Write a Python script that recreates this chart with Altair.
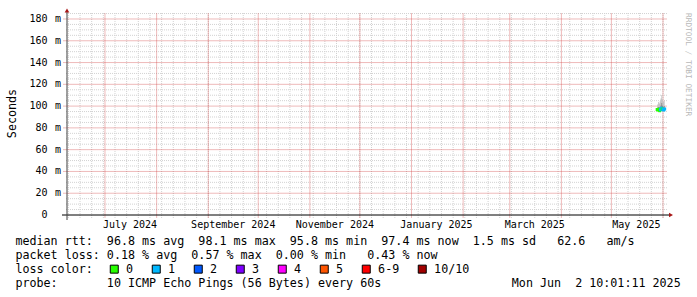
import altair as alt
import pandas as pd

# ------------------------------------------------------------------ data
sample_time = ["2025-05-28T12:00:00Z", "2025-05-29T00:00:00Z", "2025-05-29T12:00:00Z",
               "2025-05-30T00:00:00Z", "2025-05-30T12:00:00Z", "2025-05-31T00:00:00Z",
               "2025-05-31T12:00:00Z", "2025-06-01T00:00:00Z", "2025-06-01T12:00:00Z",
               "2025-06-02T00:00:00Z"]
median_ms = [96.9, 96.4, 97.1, 95.8, 96.7, 98.1, 97.2, 96.8, 96.5, 97.4]
smoke_lo_ms = [95.2, 94.8, 95.3, 94.4, 94.9, 95.9, 95.4, 95.0, 94.7, 95.5]
smoke_hi_ms = [101.5, 103.8, 102.4, 104.5, 107.0, 110.2, 106.1, 103.9, 105.3, 102.8]
core_lo_ms = [96.2, 95.8, 96.4, 95.2, 95.9, 97.1, 96.5, 96.0, 95.7, 96.6]
core_hi_ms = [98.6, 99.2, 99.0, 98.8, 100.6, 102.9, 100.4, 99.3, 100.1, 99.4]
loss_bucket = ["0", "0", "0", "0", "1", "1", "0", "1", "1", "1"]

loss_labels = ["0", "1", "2", "3", "4", "5", "6-9", "10/10"]
loss_colors = ["#26ff00", "#00b8ff", "#0059ff", "#7e00ff", "#ff00ff", "#ff5500", "#ff0000", "#a10000"]

y_major = [0, 20, 40, 60, 80, 100, 120, 140, 160, 180]
y_label_num = ["0", "20", "40", "60", "80", "100", "120", "140", "160", "180"]
y_label_unit = ["", "m", "m", "m", "m", "m", "m", "m", "m", "m"]
y_minor = [5, 10, 15, 25, 30, 35, 45, 50, 55, 65, 70, 75, 85, 90, 95, 105, 110, 115,
           125, 130, 135, 145, 150, 155, 165, 170, 175, 185]
month_starts = ["2024-07-01", "2024-08-01", "2024-09-01", "2024-10-01", "2024-11-01",
                "2024-12-01", "2025-01-01", "2025-02-01", "2025-03-01", "2025-04-01",
                "2025-05-01", "2025-06-01"]
week_starts = [d.strftime("%Y-%m-%d") for d in pd.date_range("2024-06-09", "2025-06-01", freq="7D")]
month_label_at = ["2024-07-16", "2024-09-16", "2024-11-16", "2025-01-16", "2025-03-16", "2025-05-16"]
month_label_text = ["July 2024", "September 2024", "November 2024", "January 2025",
                    "March 2025", "May 2025"]

legend_line1 = "median rtt:  96.8 ms avg  98.1 ms max  95.8 ms min  97.4 ms now  1.5 ms sd   62.6   am/s"
legend_line2 = "packet loss: 0.18 % avg  0.57 % max  0.00 % min   0.43 % now"
legend_line4 = "probe:       10 ICMP Echo Pings (56 Bytes) every 60s"
stamp_text = "Mon Jun  2 10:01:11 2025"
watermark = "RRDTOOL / TOBI OETIKER"

# ------------------------------------------------------------------ layout
W, H = 598, 202
PL, PT = 67, 13
MONO = "DejaVu Sans Mono"
FS = 11.7


def nb(s):
    return s.replace(" ", "\u00a0")


def utc(s):
    return s + "T00:00:00Z"


xscale = alt.Scale(domain=[alt.DateTime(year=2024, month=6, date=8, hours=4, minutes=30, utc=True),
                           alt.DateTime(year=2025, month=6, date=2, hours=4, minutes=45, utc=True)],
                   nice=False)
yscale = alt.Scale(domain=[0, 185.5], nice=False, zero=False)

yaxis = alt.Axis(values=y_major, labels=False, grid=False, ticks=False, domain=False,
                 title="Seconds", titleFont=MONO, titleFontSize=FS, titleFontWeight="normal",
                 titleColor="black", titleX=-56, titleY=100, titleBaseline="middle", titleAngle=270)


def Y(field):
    return alt.Y(field, scale=yscale, axis=yaxis)


def X(field):
    return alt.X(field, scale=xscale, axis=None)


data = pd.DataFrame({"t": sample_time, "median": median_ms, "lo": smoke_lo_ms, "hi": smoke_hi_ms,
                     "clo": core_lo_ms, "chi": core_hi_ms, "loss": loss_bucket})

MINOR = "#d2d2d2"
MAJOR = "#d04040"

# grid
hminor = alt.Chart(pd.DataFrame({"gv": y_minor})).mark_rule(
    stroke=MINOR, strokeDash=[1, 1], strokeWidth=1).encode(
    y=Y("gv:Q"), x=alt.value(-1), x2=alt.value(W + 2))
vminor = alt.Chart(pd.DataFrame({"gt": [utc(d) for d in week_starts]})).mark_rule(
    stroke=MINOR, strokeDash=[1, 1], strokeWidth=1).encode(
    x=X("gt:T"), y=alt.value(0), y2=alt.value(H + 3))
hmajor = alt.Chart(pd.DataFrame({"mv": y_major[1:]})).mark_rule(
    stroke=MAJOR, strokeWidth=1, strokeOpacity=0.36).encode(
    y=Y("mv:Q"), x=alt.value(-4), x2=alt.value(W + 2))
vmajor = alt.Chart(pd.DataFrame({"mt": [utc(d) for d in month_starts]})).mark_rule(
    stroke=MAJOR, strokeWidth=1, strokeOpacity=0.36).encode(
    x=X("mt:T"), y=alt.value(0), y2=alt.value(H + 3))

# y tick labels
ylab_df = pd.DataFrame({"v": y_major, "n": y_label_num, "u": y_label_unit})
ynum = alt.Chart(ylab_df).mark_text(font=MONO, fontSize=10, color="black", align="right",
                                    baseline="middle").encode(
    y=Y("v:Q"), x=alt.value(-19.5), text="n:N")
yunit = alt.Chart(ylab_df).mark_text(font=MONO, fontSize=10, color="black", align="right",
                                     baseline="middle").encode(
    y=Y("v:Q"), x=alt.value(-6), text="u:N")

smoke = alt.Chart(data).mark_area(color="#c4c4c4", interpolate="step-after").encode(
    x=X("t:T"), y=Y("hi:Q"), y2="lo:Q")
core = alt.Chart(data).mark_area(color="#8a8a8a", interpolate="step-after").encode(
    x=X("t:T"), y=Y("chi:Q"), y2="clo:Q")

medians = alt.Chart(data).mark_point(shape="square", filled=True, size=9, opacity=1).encode(
    x=X("t:T"), y=Y("median:Q"),
    color=alt.Color("loss:N", scale=alt.Scale(domain=loss_labels, range=loss_colors),
                    legend=alt.Legend(title="loss color:", orient="none", legendX=-51.6, legendY=250.3,
                                      direction="horizontal", columns=8, gridAlign="none",
                                      titleOrient="left", titleFont=MONO, titleFontSize=FS,
                                      titleFontWeight="normal", titleColor="black", titlePadding=15,
                                      titleAnchor="middle", titleBaseline="middle",
                                      labelFont=MONO, labelFontSize=FS, labelColor="black",
                                      labelOffset=6, columnPadding=16, padding=0,
                                      symbolType="square", symbolSize=64, symbolStrokeColor="black",
                                      symbolStrokeWidth=1, symbolOpacity=1)))

# axis lines and arrows
xline = alt.Chart(pd.DataFrame({"a": [0]})).mark_rule(color="black", strokeWidth=1).encode(
    y=alt.value(H), x=alt.value(-5), x2=alt.value(W + 4))
yline = alt.Chart(pd.DataFrame({"a": [0]})).mark_rule(color="#404040", strokeWidth=1).encode(
    x=alt.value(0), y=alt.value(-3), y2=alt.value(H + 5))
arrow_up = alt.Chart(pd.DataFrame({"a": [0]})).mark_point(
    shape="triangle-up", filled=True, size=22, color="#a81818", opacity=1).encode(
    x=alt.value(0), y=alt.value(-2.5))
arrow_right = alt.Chart(pd.DataFrame({"a": [0]})).mark_point(
    shape="triangle-right", filled=True, size=22, color="#a81818", opacity=1).encode(
    x=alt.value(W + 6), y=alt.value(H))

# x labels
xlabels = alt.Chart(pd.DataFrame({"t": [utc(d) for d in month_label_at], "s": month_label_text})).mark_text(
    font=MONO, fontSize=10, color="black", align="center", baseline="alphabetic").encode(
    x=X("t:T"), y=alt.value(H + 13), text="s:N")


def text_layer(s, x, y, align="left", size=FS, color="black", angle=0, baseline="alphabetic"):
    return alt.Chart(pd.DataFrame({"s": [nb(s)]})).mark_text(
        align=align, baseline=baseline, font=MONO, fontSize=size, color=color, angle=angle).encode(
        x=alt.value(x), y=alt.value(y), text="s:N")


t1 = text_layer(legend_line1, -51.6, 232.3)
t2 = text_layer(legend_line2, -51.6, 246.2)
t4 = text_layer(legend_line4, -51.6, 274.0)
t5 = text_layer(stamp_text, 613.7, 274.0, align="right")
wm = text_layer(watermark, 621, 0, size=7.8, color="#b8b8b8", angle=90, baseline="middle")

chart = alt.layer(hminor, vminor, hmajor, vmajor, smoke, core, medians, xline, yline,
                  arrow_up, arrow_right, ynum, yunit, xlabels, t1, t2, t4, t5, wm).properties(
    width=W, height=H,
    autosize=alt.AutoSizeParams(type="none"),
    padding={"left": PL, "top": PT, "right": 697 - PL - W, "bottom": 297 - PT - H},
    background="white",
).configure_view(stroke=None)

chart.save("out.html", embed_options={"renderer": "svg", "actions": False})
